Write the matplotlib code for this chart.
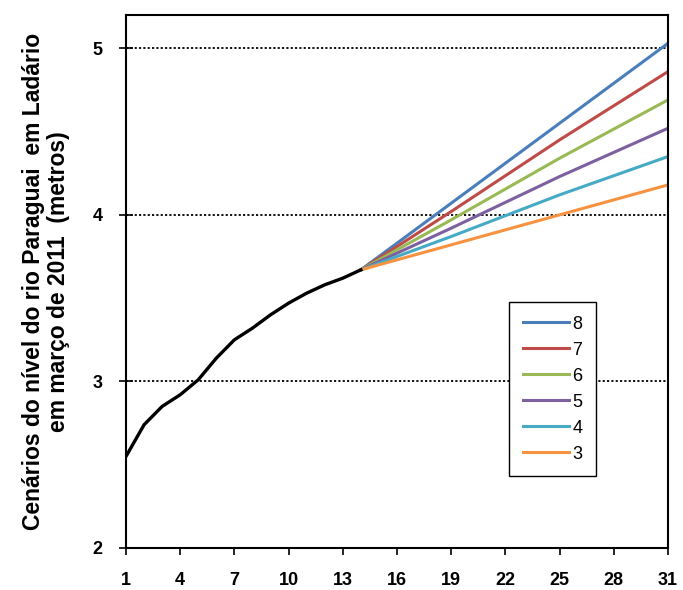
import numpy as np
import matplotlib.pyplot as plt

# nível observado (dias 1 a 14)
dias_obs = np.arange(1, 15)
nivel_obs = [2.55, 2.74, 2.85, 2.92, 3.01, 3.14, 3.25, 3.32, 3.40, 3.47,
             3.53, 3.58, 3.62, 3.67]

# cenários (dias 14 a 31)
dias_cen = [14, 19, 25, 31]
cen_8 = [3.67, 4.07, 4.55, 5.03]
cen_7 = [3.67, 4.02, 4.45, 4.86]
cen_6 = [3.67, 3.97, 4.34, 4.69]
cen_5 = [3.67, 3.92, 4.23, 4.52]
cen_4 = [3.67, 3.87, 4.12, 4.35]
cen_3 = [3.67, 3.82, 4.00, 4.18]

cenarios = [cen_8, cen_7, cen_6, cen_5, cen_4, cen_3]
nomes = ['8', '7', '6', '5', '4', '3']
cores = ['#4A7EBB', '#BE4B48', '#98B954', '#7D60A0', '#46AAC5', '#F69240']

plt.rcParams['font.family'] = ['Liberation Sans', 'DejaVu Sans']

fig = plt.figure(figsize=(6.83, 5.90), dpi=100)
ax = fig.add_axes([0.1845, 0.0712, 0.7935, 0.9034])

for y in [3, 4, 5]:
    ax.axhline(y, color='black', lw=1.3, ls=(0, (1.2, 1.2)), zorder=1)

for vals, nome, cor in zip(cenarios, nomes, cores):
    ax.plot(dias_cen, vals, color=cor, lw=2.2, label=nome, zorder=2)
ax.plot(dias_obs, nivel_obs, color='black', lw=2.4, zorder=3)

ax.set_xlim(1, 31)
ax.set_ylim(2, 5.2)
ax.set_xticks(np.arange(1, 32, 3))
ax.set_yticks([2, 3, 4, 5])
ax.tick_params(axis='y', direction='inout', length=10, width=1.2, pad=12)
ax.tick_params(axis='x', direction='out', length=5, width=1.2, pad=12)
for lab in ax.get_xticklabels() + ax.get_yticklabels():
    lab.set_fontweight('bold')
    lab.set_fontsize(13)
for s in ax.spines.values():
    s.set_linewidth(1.5)

ax.set_ylabel('Cenários do nível do rio Paraguai  em Ladário\nem março de 2011  (metros)',
              fontsize=16.5, fontweight='bold', labelpad=16, linespacing=1.1)

leg = ax.legend(loc='upper left', bbox_to_anchor=(0.7066, 0.4615), frameon=True,
                fancybox=False, edgecolor='black', framealpha=1, fontsize=13,
                handlelength=2.6, handletextpad=0.15, labelspacing=0.5,
                borderpad=0.75, borderaxespad=0)
leg.get_frame().set_linewidth(1.0)

fig.savefig('out.png', dpi=100)
